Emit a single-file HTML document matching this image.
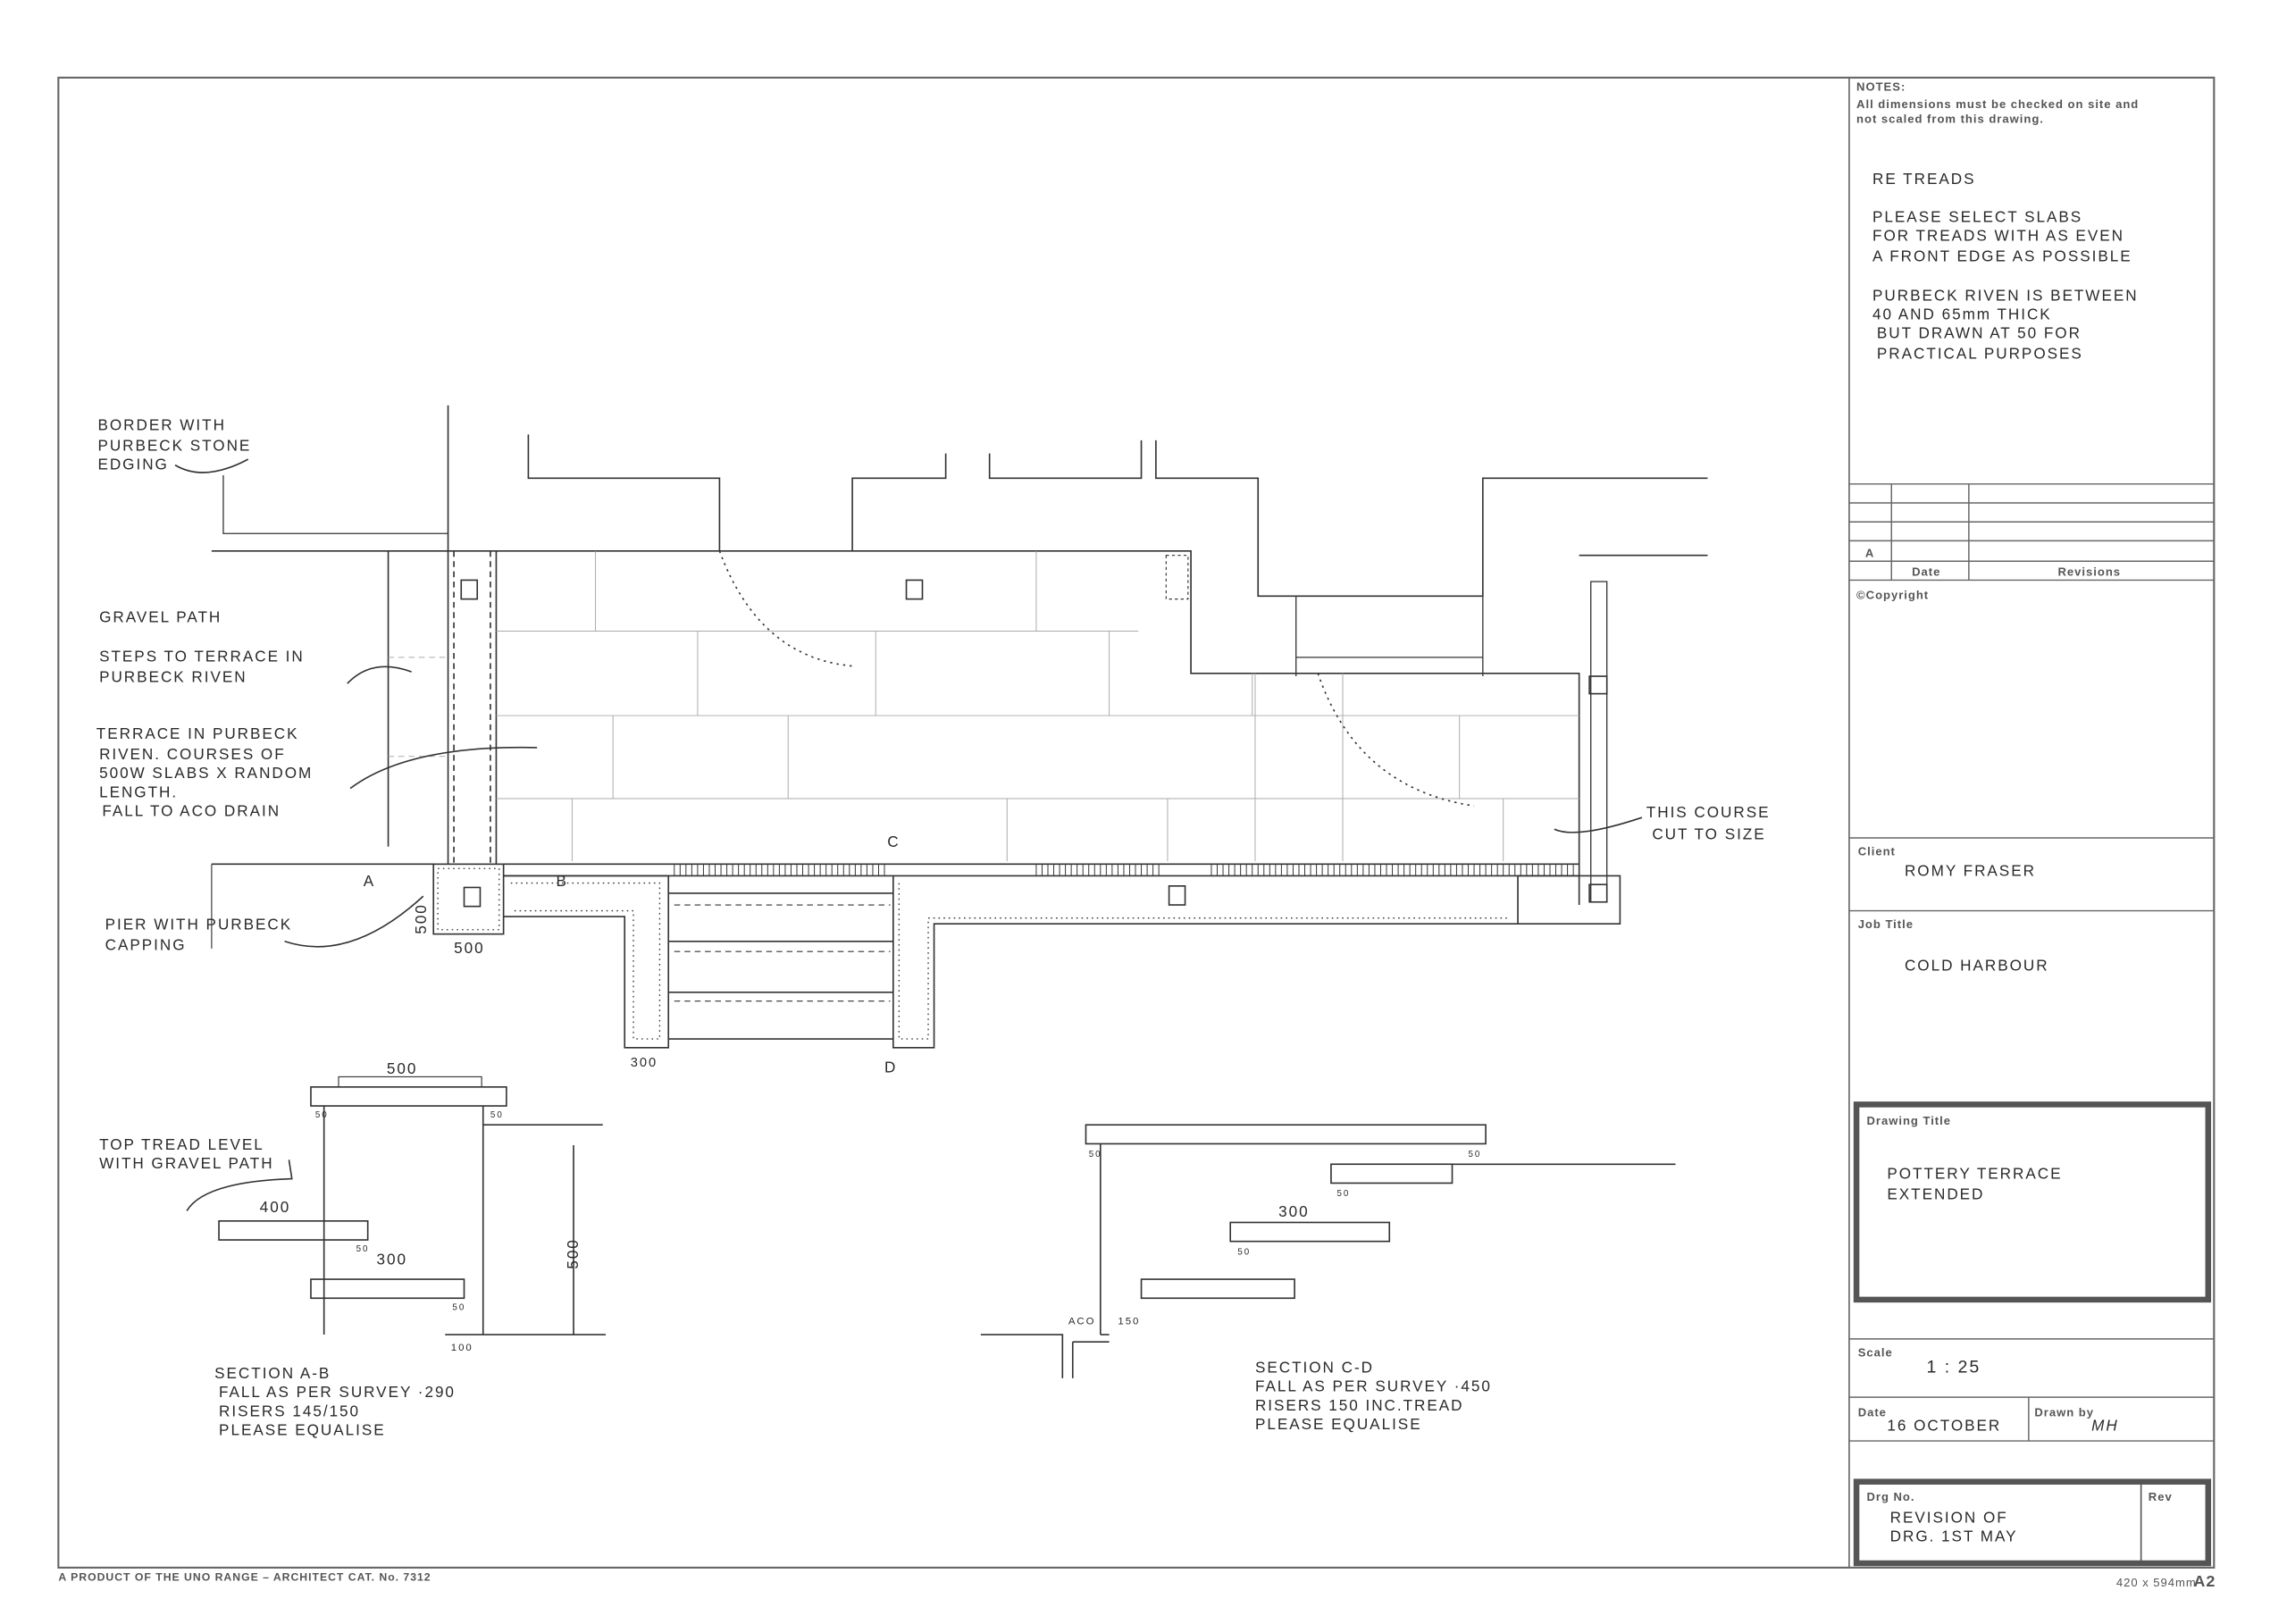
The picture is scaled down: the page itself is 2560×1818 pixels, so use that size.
<!DOCTYPE html>
<html><head><meta charset="utf-8"><style>
html,body{margin:0;padding:0;background:#fff;width:2560px;height:1818px;overflow:hidden}
svg{display:block}
.h{font-family:"Liberation Sans",sans-serif;font-size:10.5px;fill:#2a2a2a;letter-spacing:1.2px}
.p{font-family:"Liberation Sans",sans-serif;font-weight:bold;fill:#555;font-size:8px;letter-spacing:.6px}
</style></head><body>
<svg width="2560" height="1818" viewBox="0 -1.3 1567 1115" preserveAspectRatio="none" xmlns="http://www.w3.org/2000/svg">
<g fill="none" stroke="#333" stroke-width="1">
<rect x="40" y="52" width="1477" height="1023" stroke="#666" stroke-width="1.3"/>
<line x1="1267" y1="52" x2="1267" y2="1075" stroke="#666"/>
<g stroke="#666" stroke-width=".9">
<line x1="1267" y1="331" x2="1517" y2="331"/><line x1="1267" y1="344" x2="1517" y2="344"/>
<line x1="1267" y1="357" x2="1517" y2="357"/><line x1="1267" y1="370" x2="1517" y2="370"/>
<line x1="1267" y1="384" x2="1517" y2="384"/><line x1="1267" y1="397" x2="1517" y2="397"/>
<line x1="1296" y1="331" x2="1296" y2="397"/><line x1="1349" y1="331" x2="1349" y2="397"/>
<line x1="1267" y1="574" x2="1517" y2="574"/><line x1="1267" y1="624" x2="1517" y2="624"/>
<line x1="1267" y1="918" x2="1517" y2="918"/><line x1="1267" y1="958" x2="1517" y2="958"/>
<line x1="1267" y1="988" x2="1517" y2="988"/><line x1="1390" y1="958" x2="1390" y2="988"/>
</g>
<rect x="1272" y="757" width="241" height="134" stroke="#555" stroke-width="4"/>
<rect x="1272" y="1016" width="241" height="56" stroke="#555" stroke-width="4"/>
<line x1="1467" y1="1016" x2="1467" y2="1072" stroke="#555"/>

<path d="M307,277 V592"/>
<path d="M153,325 V365 H307" stroke-width=".8"/>
<path d="M145,377 H307"/>
<path d="M362,297 V327 H493 V377"/>
<path d="M584,377 V327 H648 V310"/>
<path d="M678,310 V327 H782 V301"/>
<path d="M792,301 V327 H862 V408 H1016 V327 H1170"/>
<path d="M1082,380 H1170"/>
<path d="M888,408 V463 M1016,408 V463 M888,450 H1016" stroke-width=".8"/>
<path d="M307,377 H816 V461 H1082 V620"/>
<path d="M145,592 H297"/>
<path d="M145,592 V650" stroke-width=".7"/>
<path d="M266,377 V580"/>
<path d="M311,377 V592 M336,377 V592" stroke-dasharray="4,3"/>
<path d="M340,377 V592"/>
<g stroke="#aaa" stroke-width=".6">
<path d="M340,432 H780 M340,490 H1082 M340,547 H1082 M858,490 V461 M860,461 V590"/>
<path d="M408,377 V432 M478,432 V490 M420,490 V547 M392,547 V590 M600,432 V490 M710,377 V432 M540,490 V547 M690,547 V590 M760,432 V490 M800,547 V590 M920,461 V590 M1000,490 V547 M1030,547 V590"/>
<path d="M266,450 H307 M266,518 H307" stroke-dasharray="4,3"/>
</g>
<path d="M493,377 Q520,450 584,456" stroke-dasharray="1.5,3"/>
<path d="M903,461 Q930,540 1010,552" stroke-dasharray="1.5,3"/>
<rect x="799" y="380" width="15" height="30" stroke-dasharray="2,2" stroke-width=".7"/>
<rect x="1090" y="398" width="11" height="220" stroke-width=".8"/>
<rect x="1089" y="463" width="12" height="12"/><rect x="1089" y="606" width="12" height="12"/>
<path d="M345,592 H1082 M345,600 H1082"/>
<path d="M462,592 V600 M466,592 V600 M470,592 V600 M474,592 V600 M478,592 V600 M482,592 V600 M486,592 V600 M490,592 V600 M494,592 V600 M498,592 V600 M502,592 V600 M506,592 V600 M510,592 V600 M514,592 V600 M518,592 V600 M522,592 V600 M526,592 V600 M530,592 V600 M534,592 V600 M538,592 V600 M542,592 V600 M546,592 V600 M550,592 V600 M554,592 V600 M558,592 V600 M562,592 V600 M566,592 V600 M570,592 V600 M574,592 V600 M578,592 V600 M582,592 V600 M586,592 V600 M590,592 V600 M594,592 V600 M598,592 V600 M602,592 V600 M606,592 V600 M710,592 V600 M714,592 V600 M718,592 V600 M722,592 V600 M726,592 V600 M730,592 V600 M734,592 V600 M738,592 V600 M742,592 V600 M746,592 V600 M750,592 V600 M754,592 V600 M758,592 V600 M762,592 V600 M766,592 V600 M770,592 V600 M774,592 V600 M778,592 V600 M782,592 V600 M786,592 V600 M790,592 V600 M794,592 V600 M830,592 V600 M834,592 V600 M838,592 V600 M842,592 V600 M846,592 V600 M850,592 V600 M854,592 V600 M858,592 V600 M862,592 V600 M866,592 V600 M870,592 V600 M874,592 V600 M878,592 V600 M882,592 V600 M886,592 V600 M890,592 V600 M894,592 V600 M898,592 V600 M902,592 V600 M906,592 V600 M910,592 V600 M914,592 V600 M918,592 V600 M922,592 V600 M926,592 V600 M930,592 V600 M934,592 V600 M938,592 V600 M942,592 V600 M946,592 V600 M950,592 V600 M954,592 V600 M958,592 V600 M962,592 V600 M966,592 V600 M970,592 V600 M974,592 V600 M978,592 V600 M982,592 V600 M986,592 V600 M990,592 V600 M994,592 V600 M998,592 V600 M1002,592 V600 M1006,592 V600 M1010,592 V600 M1014,592 V600 M1018,592 V600 M1022,592 V600 M1026,592 V600 M1030,592 V600 M1034,592 V600 M1038,592 V600 M1042,592 V600 M1046,592 V600 M1050,592 V600 M1054,592 V600 M1058,592 V600 M1062,592 V600 M1066,592 V600 M1070,592 V600 M1074,592 V600 M1078,592 V600" stroke-width=".6"/>
<rect x="297" y="592" width="48" height="48"/>
<rect x="300" y="595" width="42" height="42" stroke-dasharray="1,2.5" stroke-width=".8"/>
<rect x="318" y="608" width="11" height="13"/><rect x="316" y="397" width="11" height="13"/><rect x="621" y="397" width="11" height="13"/><rect x="801" y="607" width="11" height="13"/>
<path d="M345,600 H458 V718 H428 V628 H345"/>
<path d="M350,605 H452 V712 H434 V624 H350" stroke-dasharray="1,2.5" stroke-width=".8"/>
<path d="M612,600 V718 H640 V633 H1040 V600 M1040,600 H1110 V633 H1040"/>
<path d="M616,605 V712 H636 V629 H1035" stroke-dasharray="1,2.5" stroke-width=".8"/>
<path d="M458,612 H612 M458,645 H612 M458,680 H612 M458,712 H612"/>
<path d="M462,620 H610 M462,652 H610 M462,686 H610" stroke-dasharray="4,3" stroke-width=".7"/>
<path d="M120,318 Q140,330 170,314" /><path d="M238,468 Q255,450 282,460"/><path d="M240,540 Q280,510 368,512"/><path d="M195,645 Q240,660 290,614"/><path d="M1065,568 Q1080,575 1125,560"/><path d="M128,830 Q140,810 200,808 L198,795"/>

<rect x="213" y="745" width="134" height="13"/>
<path d="M222,758 V915 M331,758 V915 M331,771 H413 M393,785 V915 M305,915 H415"/>
<rect x="150" y="837" width="102" height="13"/>
<rect x="213" y="877" width="105" height="13"/>
<path d="M232,745 V738 H330 V745" stroke-width=".7"/>
<rect x="744" y="771" width="274" height="13"/>
<path d="M754,784 V915 M995,798 H1148 M672,915 H728 V945 M735,920 V945 M735,920 H760 M754,915 H760"/>
<rect x="912" y="798" width="83" height="13"/>
<rect x="843" y="838" width="109" height="13"/>
<rect x="782" y="877" width="105" height="13"/>
</g>

<g class="p">
<text x="1272" y="61">NOTES:</text>
<text x="1272" y="73">All dimensions must be checked on site and</text>
<text x="1272" y="83">not scaled from this drawing.</text>
<text x="1278" y="381">A</text><text x="1310" y="394">Date</text><text x="1410" y="394">Revisions</text>
<text x="1272" y="410">©Copyright</text>
<text x="1273" y="586">Client</text><text x="1273" y="636">Job Title</text>
<text x="1279" y="771">Drawing Title</text>
<text x="1273" y="930">Scale</text><text x="1273" y="971">Date</text><text x="1394" y="971">Drawn by</text>
<text x="1279" y="1029">Drg No.</text><text x="1472" y="1029">Rev</text>
<text x="40" y="1084" font-size="7.5">A PRODUCT OF THE UNO RANGE – ARCHITECT CAT. No. 7312</text>
<text x="1450" y="1088" font-size="8" font-weight="normal">420 x 594mm</text><text x="1503" y="1088" font-size="11">A2</text>
</g>

<g class="h">
<text x="1283" y="125">RE TREADS</text>
<text x="1283" y="151">PLEASE SELECT SLABS</text>
<text x="1283" y="164">FOR TREADS WITH AS EVEN</text>
<text x="1283" y="178">A FRONT EDGE AS POSSIBLE</text>
<text x="1283" y="205">PURBECK RIVEN IS BETWEEN</text>
<text x="1283" y="218">40 AND 65mm THICK</text>
<text x="1286" y="231">BUT DRAWN AT 50 FOR</text>
<text x="1286" y="245">PRACTICAL PURPOSES</text>
<text x="1305" y="600">ROMY FRASER</text>
<text x="1305" y="665">COLD HARBOUR</text>
<text x="1293" y="808">POTTERY TERRACE</text>
<text x="1293" y="822">EXTENDED</text>
<text x="1320" y="941" font-size="12">1 : 25</text>
<text x="1293" y="981">16 OCTOBER</text>
<text x="1433" y="981" font-style="italic">MH</text>
<text x="1295" y="1044">REVISION OF</text>
<text x="1295" y="1057">DRG. 1ST MAY</text>

<text x="67" y="294">BORDER WITH</text>
<text x="67" y="308">PURBECK STONE</text>
<text x="67" y="321">EDGING</text>
<text x="68" y="426">GRAVEL PATH</text>
<text x="68" y="453">STEPS TO TERRACE IN</text>
<text x="68" y="467">PURBECK RIVEN</text>
<text x="66" y="506">TERRACE IN PURBECK</text>
<text x="68" y="520">RIVEN. COURSES OF</text>
<text x="68" y="533">500W SLABS X RANDOM</text>
<text x="68" y="546">LENGTH.</text>
<text x="70" y="559">FALL TO ACO DRAIN</text>
<text x="72" y="637">PIER WITH PURBECK</text>
<text x="72" y="651">CAPPING</text>
<text x="249" y="607">A</text><text x="381" y="607">B</text><text x="608" y="580">C</text><text x="606" y="735">D</text>
<text x="311" y="653">500</text><text x="432" y="731" font-size="9">300</text>
<text x="1128" y="560">THIS COURSE</text>
<text x="1132" y="575">CUT TO SIZE</text>
<text x="265" y="736">500</text>
<text x="68" y="788">TOP TREAD LEVEL</text>
<text x="68" y="801">WITH GRAVEL PATH</text>
<text x="178" y="831">400</text><text x="258" y="867">300</text>
<text x="147" y="945">SECTION A-B</text>
<text x="150" y="958">FALL AS PER SURVEY ·290</text>
<text x="150" y="971">RISERS 145/150</text>
<text x="150" y="984">PLEASE EQUALISE</text>
<text x="876" y="834">300</text>
<text x="860" y="941">SECTION C-D</text>
<text x="860" y="954">FALL AS PER SURVEY ·450</text>
<text x="860" y="967">RISERS 150 INC.TREAD</text>
<text x="860" y="980">PLEASE EQUALISE</text>
<text x="732" y="908" font-size="7">ACO</text><text x="766" y="908" font-size="7">150</text>
<text x="216" y="766" font-size="6">50</text><text x="336" y="766" font-size="6">50</text>
<text x="244" y="858" font-size="6">50</text><text x="310" y="898" font-size="6">50</text><text x="309" y="926" font-size="7">100</text>
<text x="746" y="793" font-size="6">50</text><text x="1006" y="793" font-size="6">50</text><text x="916" y="820" font-size="6">50</text><text x="848" y="860" font-size="6">50</text>
</g>
<text x="0" y="0" transform="translate(396,870) rotate(-90)" class="h">500</text>
<text x="0" y="0" transform="translate(292,640) rotate(-90)" class="h" font-size="9">500</text>
</svg>
</body></html>
